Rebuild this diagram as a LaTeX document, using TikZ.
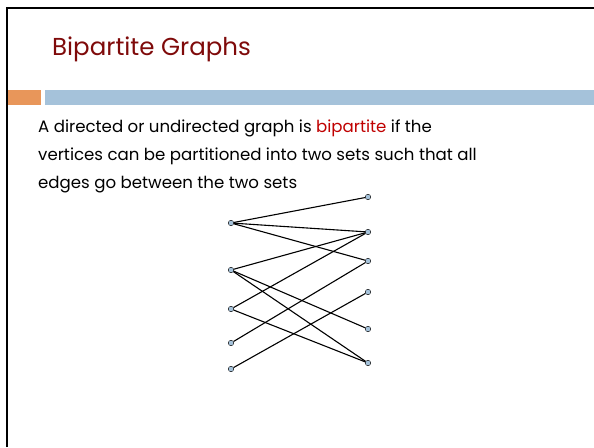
\documentclass[tikz,border=0pt]{standalone}
\usepackage{fontspec}
\setmainfont{Poppins}
\definecolor{titlered}{HTML}{7F0A0A}
\definecolor{hired}{HTML}{C00000}
\definecolor{barorange}{HTML}{E8965A}
\definecolor{barblue}{HTML}{A5C2DA}
\definecolor{vfill}{HTML}{A5C2DA}
\tikzset{
  vert/.style={circle, draw=black, fill=vfill, line width=0.4pt, inner sep=0pt, minimum size=5.5pt},
  edge/.style={draw=black, line width=1.1pt},
  txt/.style={anchor=base west, inner sep=0pt, font=\fontsize{16.6}{20}\selectfont}
}
\begin{document}
\begin{tikzpicture}[x=1pt,y=-1pt]
\useasboundingbox (0,0) rectangle (594,447);
\fill[white] (0,0) rectangle (594,447);
% frame
\draw[line width=2pt] (7,447) -- (7,7.5) -- (594,7.5);
% bars
\fill[barorange] (8,90) rectangle (41,104.5);
\fill[barblue] (45,90) rectangle (594,104.5);
% title
\node[anchor=base west, inner sep=0pt, text=titlered, font=\fontsize{24.5}{28}\selectfont] (title) at (52,55) {Bipartite Graphs};
% body
\node[txt] (l1) at (38,132) {A directed or undirected graph is \textcolor{hired}{bipartite} if the};
\node[txt] (l2) at (38,160) {vertices can be partitioned into two sets such that all};
\node[txt] (l3) at (38,188) {edges go between the two sets};
% vertices
\node[vert] (a1) at (231,223) {};
\node[vert] (a2) at (231,270) {};
\node[vert] (a3) at (231,309) {};
\node[vert] (a4) at (231,343) {};
\node[vert] (a5) at (231,369) {};
\node[vert] (b1) at (368,197) {};
\node[vert] (b2) at (368,232) {};
\node[vert] (b3) at (368,261) {};
\node[vert] (b4) at (368,292) {};
\node[vert] (b5) at (368,329) {};
\node[vert] (b6) at (368,363) {};
% edges
\draw[edge] (a1) -- (b1);
\draw[edge] (a1) -- (b2);
\draw[edge] (a1) -- (b3);
\draw[edge] (a2) -- (b2);
\draw[edge] (a2) -- (b5);
\draw[edge] (a2) -- (b6);
\draw[edge] (a3) -- (b2);
\draw[edge] (a3) -- (b6);
\draw[edge] (a4) -- (b3);
\draw[edge] (a5) -- (b4);
\end{tikzpicture}
\end{document}
